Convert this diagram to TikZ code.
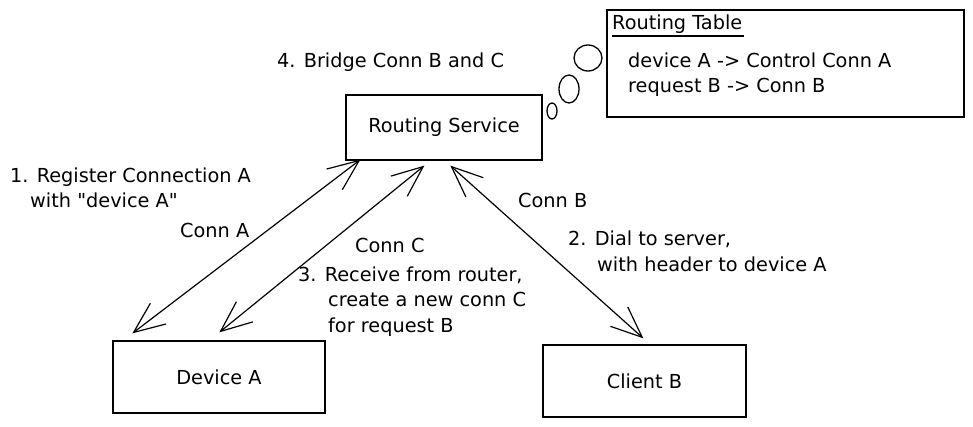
\documentclass[tikz,border=0pt]{standalone}
\usepackage{fontspec}
\setmainfont{DejaVu Sans}[Ligatures=TeXOff]
\usetikzlibrary{arrows.meta,calc}
\begin{document}
\begin{tikzpicture}[x=1pt,y=-1pt,
  every node/.style={font=\fontsize{19.3}{22}\selectfont},
  box/.style={draw,line width=1.3pt,inner sep=0pt},
  lbl/.style={anchor=base west,inner sep=0pt},
  conn/.style={line width=1.2pt,{Straight Barb[length=31pt,width=26pt,line width=1.2pt]}-{Straight Barb[length=31pt,width=26pt,line width=1.2pt]}},
  bub/.style={line width=1.3pt}]
\useasboundingbox (0,0) rectangle (973,427);
% boxes
\node[box,minimum width=196pt,minimum height=65pt] (rs) at (444,127.5) {Routing Service};
\node[box,minimum width=212pt,minimum height=72pt] (dev) at (219,377) {Device A};
\node[box,minimum width=203pt,minimum height=72pt] (cb) at (644.5,381) {Client B};
\node[box,minimum width=357pt,minimum height=107pt] (rt) at (785.5,63.5) {};
% routing table text
\node[lbl] (rtt) at (612,30) {Routing Table};
\draw[line width=1.3pt] ($(rtt.base west)+(0,6)$) -- ($(rtt.base east)+(2,6)$);
\node[lbl] (rt1) at (628,68) {device A -> Control Conn A};
\node[lbl] (rt2) at (628,93) {request B -> Conn B};
% thought bubbles
\draw[bub] (588,58) ellipse [x radius=14pt,y radius=13pt];
\draw[bub] (569,89) ellipse [x radius=10pt,y radius=14pt];
\draw[bub] (552,111) ellipse [x radius=5pt,y radius=8pt];
% labels
\node[lbl] (l4) at (277,68) {4. Bridge Conn B and C};
\node[lbl] (l1a) at (10,183) {1. Register Connection A};
\node[lbl] (l1b) at (30,208) {with "device A"};
\node[lbl] (lca) at (180,238) {Conn A};
\node[lbl] (lcc) at (355,253) {Conn C};
\node[lbl] (l3a) at (298,282) {3. Receive from router,};
\node[lbl] (l3b) at (328,306) {create a new conn C};
\node[lbl] (l3c) at (328,332) {for request B};
\node[lbl] (lcb) at (518,208) {Conn B};
\node[lbl] (l2a) at (568,246) {2. Dial to server,};
\node[lbl] (l2b) at (597,272) {with header to device A};
% connectors
\draw[conn] ($(dev.north west)+(20,-7)$) -- ($(rs.south west)+(15,-1)$);
\draw[conn] ($(dev.north west)+(107,-8)$) -- ($(rs.south west)+(79,5)$);
\draw[conn] ($(rs.south west)+(105,5)$) -- ($(cb.north west)+(101,-6)$);
\end{tikzpicture}
\end{document}
